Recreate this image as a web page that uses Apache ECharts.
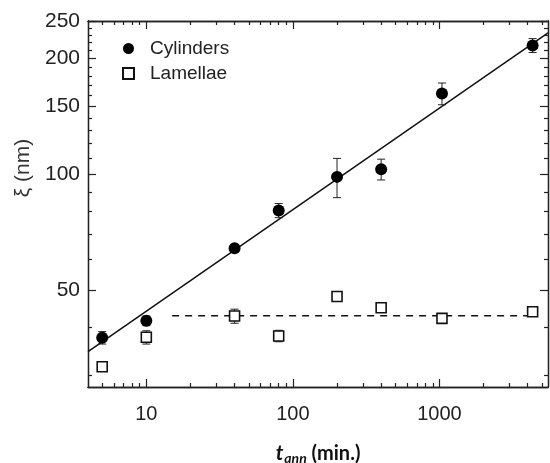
<!DOCTYPE html>
<html>
<head>
<meta charset="utf-8">
<script src="https://cdn.jsdelivr.net/npm/echarts@6/dist/echarts.min.js"></script>
<style>
  html, body { margin: 0; padding: 0; background: #fff; overflow: hidden; }
  #chart { width: 550px; height: 463px; }
</style>
</head>
<body>
<div id="chart"></div>
<script>
// Annealing times (min)
const annealTimes = [5, 10, 40, 80, 200, 400, 1040, 4320];
// Domain spacing of the cylinder phase and its error
const cylinderXi = [37.6, 41.6, 64.2, 80.5, 98.4, 103, 162, 216];
const cylinderErr = [1.4, 1.2, 1.0, 3.4, 11.5, 6.4, 10.5, 9];
// Domain spacing of the lamellar phase and its error
const lamellaeXi = [31.6, 37.7, 42.8, 38.0, 48.1, 45.0, 42.2, 43.9];
const lamellaeErr = [0.8, 1.5, 1.8, 1.3, 0.6, 0.6, 0.5, 0.5];
// Power-law fit of the cylinder data, given by its two end points
const fitTimes = [4, 5500];
const fitXi = [34.6, 233];
// Plateau of the lamellar spacing
const plateauTimes = [15, 4500];
const plateauXi = [42.9, 42.9];
// Axis ranges and tick positions
const tRange = [4, 5500];
const xiRange = [28, 250];
const tMajorTicks = [10, 100, 1000];
const tMinorTicks = [5, 6, 7, 8, 9, 20, 30, 40, 50, 60, 70, 80, 90,
  200, 300, 400, 500, 600, 700, 800, 900, 2000, 3000, 4000, 5000];
const xiMajorTicks = [50, 100, 150, 200, 250];
const xiMinorTicks = [30, 40, 60, 70, 80, 90, 110, 120, 130, 140,
  160, 170, 180, 190, 210, 220, 230, 240];

// Both axes are logarithmic: values are placed on linear axes in log10 space
const L = Math.log10;
const AXIS_COLOR = '#222';
const LABEL_FONT = '"Liberation Sans", Arial, sans-serif';

const xMin = L(tRange[0]), xMax = L(tRange[1]);
const yMin = L(xiRange[0]), yMax = L(xiRange[1]);

function xAxisDef(position, ticks, len, withLabels) {
  return {
    type: 'value', position: position, min: xMin, max: xMax,
    axisLine: { show: true, onZero: false, lineStyle: { color: AXIS_COLOR, width: 1.3 } },
    axisTick: { show: true, inside: true, length: len, customValues: ticks.map(L),
      lineStyle: { color: AXIS_COLOR, width: 1.2 } },
    axisLabel: withLabels ? {
      show: true, customValues: ticks.map(L), margin: 17,
      fontFamily: LABEL_FONT, fontSize: 20, color: '#222',
      formatter: v => String(Math.round(Math.pow(10, v)))
    } : { show: false },
    splitLine: { show: false }
  };
}

function yAxisDef(position, ticks, len, withLabels) {
  return {
    type: 'value', position: position, min: yMin, max: yMax,
    axisLine: { show: true, onZero: false, lineStyle: { color: AXIS_COLOR, width: 1.3 } },
    axisTick: { show: true, inside: true, length: len, customValues: ticks.map(L),
      lineStyle: { color: AXIS_COLOR, width: 1.2 } },
    axisLabel: withLabels ? {
      show: true, customValues: ticks.map(L), margin: 8,
      fontFamily: LABEL_FONT, fontSize: 21, color: '#222',
      formatter: v => String(Math.round(Math.pow(10, v)))
    } : { show: false },
    splitLine: { show: false }
  };
}

const xAxes = [
  xAxisDef('bottom', tMajorTicks, 8, true),
  xAxisDef('bottom', tMinorTicks, 4, false),
  xAxisDef('top', tMajorTicks, 8, false),
  xAxisDef('top', tMinorTicks, 4, false)
];
Object.assign(xAxes[0], {
  name: '{t|t}{s|ann}{u| (min.)}',
  nameLocation: 'middle',
  nameGap: 55,
  nameTextStyle: {
    color: '#111',
    rich: {
      t: { fontFamily: 'Lato', fontWeight: 'bold', fontStyle: 'italic', fontSize: 21, color: '#111' },
      s: { fontFamily: 'Lato', fontWeight: 'bold', fontStyle: 'italic', fontSize: 14, color: '#111', padding: [9, 0, 0, 1] },
      u: { fontFamily: 'Lato', fontWeight: 'bold', fontSize: 20, color: '#111' }
    }
  }
});

const yAxes = [
  yAxisDef('left', xiMajorTicks, 8, true),
  yAxisDef('left', xiMinorTicks, 4, false),
  yAxisDef('right', xiMajorTicks, 8, false),
  yAxisDef('right', xiMinorTicks, 4, false)
];
Object.assign(yAxes[0], {
  name: 'ξ (nm)',
  nameLocation: 'middle',
  nameGap: 49,
  nameTextStyle: {
    fontFamily: LABEL_FONT, fontSize: 21, color: '#333',
    padding: [0, 0, 0, 72]
  }
});

function errorBars(values, errs) {
  return {
    type: 'custom',
    z: 2,
    silent: true,
    data: annealTimes.map((t, i) => [L(t), L(values[i] - errs[i]), L(values[i] + errs[i])]),
    encode: { x: 0, y: [1, 2] },
    renderItem: (params, api) => {
      const x = api.value(0);
      const lo = api.coord([x, api.value(1)]);
      const hi = api.coord([x, api.value(2)]);
      const cap = 4;
      const style = { stroke: '#222', lineWidth: 1 };
      return {
        type: 'group',
        children: [
          { type: 'line', shape: { x1: hi[0], y1: hi[1], x2: lo[0], y2: lo[1] }, style: style },
          { type: 'line', shape: { x1: hi[0] - cap, y1: hi[1], x2: hi[0] + cap, y2: hi[1] }, style: style },
          { type: 'line', shape: { x1: lo[0] - cap, y1: lo[1], x2: lo[0] + cap, y2: lo[1] }, style: style }
        ]
      };
    }
  };
}

const option = {
  animation: false,
  backgroundColor: '#fff',
  grid: { left: 88, right: 2, top: 21, bottom: 76, containLabel: false, outerBoundsMode: 'none' },
  xAxis: xAxes,
  yAxis: yAxes,
  legend: {
    orient: 'vertical',
    left: 117,
    top: 31,
    itemWidth: 11,
    itemHeight: 11,
    itemGap: 0,
    data: ['Cylinders', 'Lamellae'],
    textStyle: { fontFamily: LABEL_FONT, fontSize: 19, color: '#222', lineHeight: 25, padding: [0, 0, 0, 11] }
  },
  series: [
    {
      type: 'line',
      z: 1,
      silent: true,
      symbol: 'none',
      data: fitTimes.map((t, i) => [L(t), L(fitXi[i])]),
      lineStyle: { color: '#111', width: 1.5 }
    },
    {
      type: 'line',
      z: 1,
      silent: true,
      symbol: 'none',
      data: plateauTimes.map((t, i) => [L(t), L(plateauXi[i])]),
      lineStyle: { color: '#111', width: 1.5, type: [7, 6] }
    },
    errorBars(cylinderXi, cylinderErr),
    errorBars(lamellaeXi, lamellaeErr),
    {
      name: 'Cylinders',
      type: 'scatter',
      z: 3,
      symbol: 'circle',
      symbolSize: 12,
      data: annealTimes.map((t, i) => [L(t), L(cylinderXi[i])]),
      itemStyle: { color: '#000', opacity: 1 }
    },
    {
      name: 'Lamellae',
      type: 'scatter',
      z: 3,
      symbol: 'rect',
      symbolSize: 10,
      data: annealTimes.map((t, i) => [L(t), L(lamellaeXi[i])]),
      itemStyle: { color: '#fff', borderColor: '#111', borderWidth: 1.6, opacity: 1 }
    }
  ]
};

const chart = echarts.init(document.getElementById('chart'), null, { renderer: 'canvas' });
chart.setOption(option);
</script>
</body>
</html>
